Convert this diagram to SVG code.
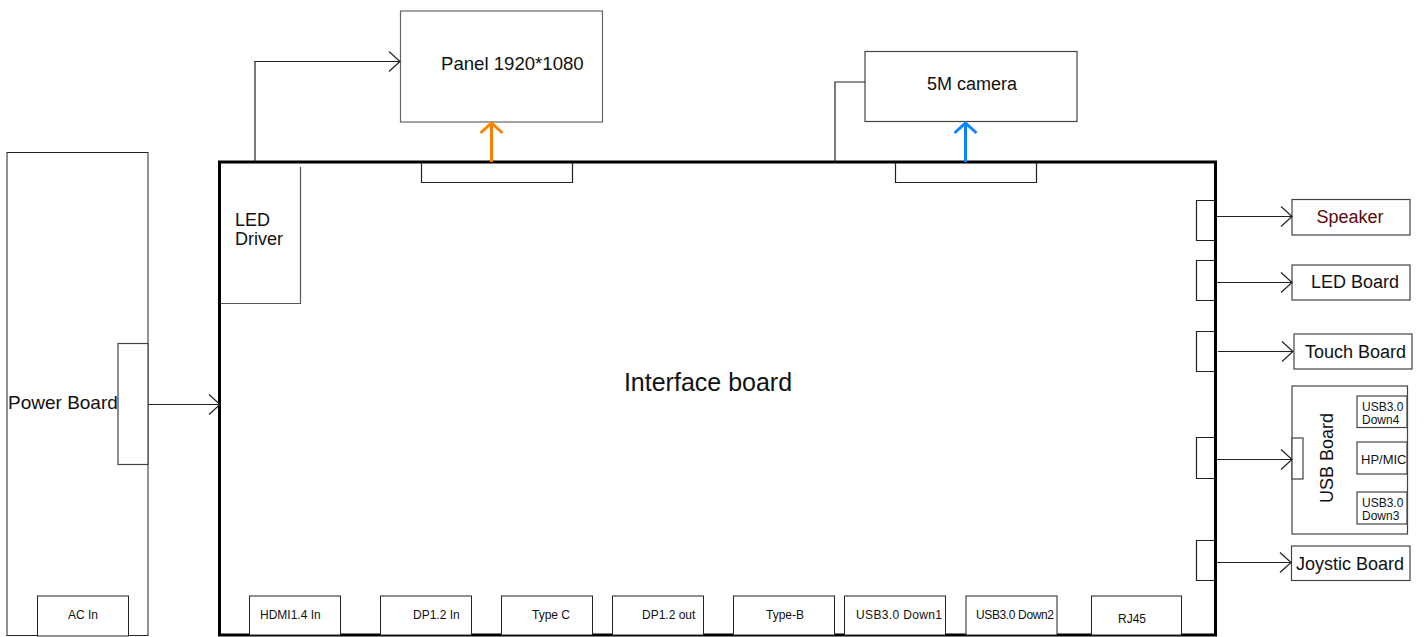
<svg xmlns="http://www.w3.org/2000/svg" width="1425" height="637" viewBox="0 0 1425 637">
  <style>
    .box { fill: #fff; stroke: #444; stroke-width: 1.2; }
    .thin { fill: #fff; stroke: #222; stroke-width: 1; }
    .board { fill: none; stroke: #000; stroke-width: 3; }
    .lbl { font-family: "Liberation Sans", Arial, sans-serif; font-size: 18px; fill: #111; }
    .sm { font-family: "Liberation Sans", Arial, sans-serif; font-size: 12px; fill: #111; }
    .wire { fill: none; stroke: #222; stroke-width: 1.2; }
  </style>
  <defs>
    <marker id="arrow" markerUnits="userSpaceOnUse" markerWidth="14" markerHeight="24" refX="12" refY="11" orient="auto">
      <path d="M1,1 L12,11 L1,21" fill="none" stroke="#222" stroke-width="1.2"/>
    </marker>
    <marker id="arrow-orange" markerUnits="userSpaceOnUse" markerWidth="16" markerHeight="28" refX="12" refY="12" orient="auto">
      <path d="M2,1 L12,12 L2,23" fill="none" stroke="#ff8000" stroke-width="3"/>
    </marker>
    <marker id="arrow-blue" markerUnits="userSpaceOnUse" markerWidth="16" markerHeight="28" refX="12" refY="12" orient="auto">
      <path d="M2,1 L12,12 L2,23" fill="none" stroke="#0a84ff" stroke-width="3"/>
    </marker>
  </defs>

  <rect width="1425" height="637" fill="#fff"/>

  <!-- Power board -->
  <g id="power-board">
    <rect class="thin" x="7" y="152.5" width="141" height="483"/>
    <rect class="box" x="118" y="343.5" width="30" height="121"/>
    <text class="lbl" x="8" y="409" style="font-size:19px">Power Board</text>
    <rect class="thin" x="37.5" y="596" width="91" height="40"/>
    <text class="sm" x="83" y="619" text-anchor="middle">AC In</text>
  </g>

  <!-- Interface board -->
  <g id="interface-board">
    <rect class="board" x="219.5" y="162" width="996" height="473"/>
    <text x="708" y="391" text-anchor="middle" font-family="Liberation Sans, Arial, sans-serif" font-size="25" fill="#111">Interface board</text>
  </g>

  <g id="led-driver">
    <path d="M300.5,167 V303.5 H221" fill="none" stroke="#555" stroke-width="1.2"/>
    <text class="lbl" x="235" y="226">LED</text>
    <text class="lbl" x="235" y="245">Driver</text>
  </g>

  <!-- connector stubs on top edge -->
  <g id="panel-connector">
    <path class="wire" d="M421.5,163 V182.5 H572.5 V163"/>
  </g>
  <g id="camera-connector">
    <path class="wire" d="M895.5,163 V182.5 H1036.5 V163"/>
  </g>

  <!-- connector stubs on right edge -->
  <g id="right-stubs">
    <path class="wire" d="M1215,200.5 H1196.5 V240.5 H1215"/>
    <path class="wire" d="M1215,260.5 H1196.5 V300.5 H1215"/>
    <path class="wire" d="M1215,331.5 H1196.5 V371.5 H1215"/>
    <path class="wire" d="M1215,437.5 H1196.5 V478.5 H1215"/>
    <path class="wire" d="M1215,540.5 H1196.5 V580.5 H1215"/>
  </g>

  <!-- bottom ports -->
  <g id="port-hdmi">
    <rect class="thin" x="249.5" y="596" width="91" height="39"/>
    <text class="sm" x="260" y="619">HDMI1.4 In</text>
  </g>
  <g id="port-dp-in">
    <rect class="thin" x="380.5" y="596" width="91" height="39"/>
    <text class="sm" x="413" y="619">DP1.2 In</text>
  </g>
  <g id="port-typec">
    <rect class="thin" x="501.5" y="596" width="91" height="39"/>
    <text class="sm" x="551" y="619" text-anchor="middle">Type C</text>
  </g>
  <g id="port-dp-out">
    <rect class="thin" x="612.5" y="596" width="91" height="39"/>
    <text class="sm" x="642" y="619">DP1.2 out</text>
  </g>
  <g id="port-typeb">
    <rect class="thin" x="733.5" y="596" width="101" height="39"/>
    <text class="sm" x="785" y="619" text-anchor="middle">Type-B</text>
  </g>
  <g id="port-usb-down1">
    <rect class="thin" x="844.5" y="596" width="101" height="39"/>
    <text class="sm" x="856" y="619" textLength="86">USB3.0 Down1</text>
  </g>
  <g id="port-usb-down2">
    <rect class="thin" x="966" y="596" width="91" height="39"/>
    <text class="sm" x="976" y="619" textLength="78">USB3.0 Down2</text>
  </g>
  <g id="port-rj45">
    <rect class="thin" x="1091.5" y="596" width="90" height="39"/>
    <text class="sm" x="1132" y="623" text-anchor="middle">RJ45</text>
  </g>

  <!-- Panel -->
  <g id="panel">
    <rect class="box" x="400.5" y="11" width="202" height="111" style="stroke:#666"/>
    <text class="lbl" x="441" y="70" style="font-size:18.6px">Panel 1920*1080</text>
  </g>

  <!-- Camera -->
  <g id="camera">
    <rect class="box" x="865" y="51.5" width="212" height="70"/>
    <text class="lbl" x="972" y="90" text-anchor="middle">5M camera</text>
  </g>

  <!-- Peripheral boards -->
  <g id="speaker">
    <rect class="box" x="1292" y="199.5" width="118" height="35.5"/>
    <text class="lbl" x="1350" y="223" text-anchor="middle" style="fill:#5a0a0a">Speaker</text>
  </g>
  <g id="led-board">
    <rect class="box" x="1292" y="265" width="118" height="35"/>
    <text class="lbl" x="1311" y="288">LED Board</text>
  </g>
  <g id="touch-board">
    <rect class="box" x="1294" y="334" width="118" height="35"/>
    <text class="lbl" x="1305" y="358">Touch Board</text>
  </g>
  <g id="usb-board">
    <rect class="box" x="1292" y="386" width="115.5" height="148"/>
    <rect class="box" x="1292" y="438" width="11" height="41"/>
    <text class="lbl" transform="translate(1333,458) rotate(-90)" text-anchor="middle">USB Board</text>
    <rect class="box" x="1357" y="396" width="50" height="31.5"/>
    <text class="sm" x="1362" y="411">USB3.0</text>
    <text class="sm" x="1362" y="424">Down4</text>
    <rect class="box" x="1357" y="442" width="50" height="32"/>
    <text class="sm" x="1361" y="464" style="font-size:13px">HP/MIC</text>
    <rect class="box" x="1357" y="492" width="50" height="32"/>
    <text class="sm" x="1362" y="507">USB3.0</text>
    <text class="sm" x="1362" y="520">Down3</text>
  </g>
  <g id="joystic-board">
    <rect class="box" x="1291.5" y="546" width="118.5" height="34.5"/>
    <text class="lbl" x="1296" y="570">Joystic Board</text>
  </g>

  <!-- Connectors -->
  <g id="connectors">
    <path class="wire" d="M255,162 V61.5 H400" marker-end="url(#arrow)"/>
    <path class="wire" d="M835,162 V82 H865"/>
    <line x1="148" y1="404.5" x2="220" y2="404.5" class="wire" marker-end="url(#arrow)"/>
    <line x1="491.5" y1="162" x2="491.5" y2="123" stroke="#ff8000" stroke-width="3" marker-end="url(#arrow-orange)"/>
    <line x1="965.5" y1="162" x2="965.5" y2="123" stroke="#0a84ff" stroke-width="3" marker-end="url(#arrow-blue)"/>
    <line x1="1216" y1="216.5" x2="1292" y2="216.5" class="wire" marker-end="url(#arrow)"/>
    <line x1="1216" y1="282.5" x2="1292" y2="282.5" class="wire" marker-end="url(#arrow)"/>
    <line x1="1218" y1="351.5" x2="1293" y2="351.5" class="wire" marker-end="url(#arrow)"/>
    <line x1="1216" y1="459.5" x2="1292" y2="459.5" class="wire" marker-end="url(#arrow)"/>
    <line x1="1216" y1="562.5" x2="1291" y2="562.5" class="wire" marker-end="url(#arrow)"/>
  </g>
</svg>
